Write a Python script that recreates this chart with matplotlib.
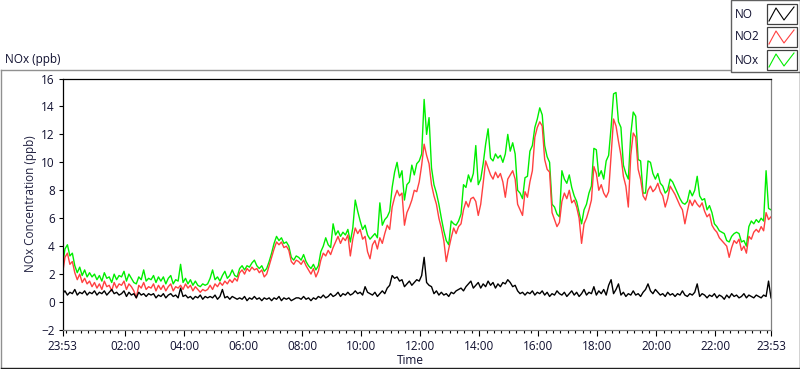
import numpy as np
import matplotlib
matplotlib.use("Agg")
import matplotlib.pyplot as plt
from matplotlib.lines import Line2D
from matplotlib.patches import Rectangle

# readings every 5 minutes, starting at 23:53 (one row = one hour)
no2 = [
    2.0, 3.2, 3.5, 2.7, 2.9, 2.1, 1.6, 2.0, 1.4, 1.7, 1.3, 1.5,
    1.1, 1.4, 1.0, 1.3, 0.9, 1.5, 1.1, 1.2, 0.8, 1.4, 1.0, 1.3,
    1.2, 1.5, 0.9, 1.3, 1.1, 0.8, 0.3, 1.2, 1.0, 1.4, 0.9, 1.1,
    1.0, 1.3, 0.8, 1.2, 0.9, 1.2, 0.8, 1.1, 1.3, 0.8, 1.1, 1.0,
    1.2, 0.9, 1.3, 1.0, 1.2, 0.8, 1.1, 0.9, 0.7, 0.9, 0.8, 0.9,
    1.2, 0.9, 1.3, 1.1, 1.4, 1.2, 1.5, 1.3, 1.6, 1.4, 1.7, 1.5,
    2.1, 2.3, 2.0, 2.4, 2.2, 2.5, 2.3, 2.4, 2.1, 2.3, 1.8, 2.0,
    2.6, 3.2, 3.8, 4.3, 4.1, 4.3, 3.9, 4.0, 3.7, 2.9, 2.7, 3.0,
    2.9, 2.7, 3.0, 2.6, 2.3, 2.0, 2.4, 1.8, 2.2, 3.0, 3.5, 3.3,
    3.7, 3.4, 3.9, 4.3, 4.7, 4.2, 4.6, 4.4, 4.8, 3.3, 4.5, 5.3,
    4.9, 5.2, 4.5, 4.7, 3.6, 3.1, 4.1, 4.4, 3.8, 4.6, 4.2, 4.9,
    5.5, 5.2, 6.8, 7.5, 8.0, 7.6, 7.8, 5.5, 6.4, 6.8, 7.3, 8.0,
    7.9, 8.6, 9.8, 11.3, 10.5, 9.9, 8.4, 7.6, 7.0, 6.0, 5.3, 4.4,
    2.9, 3.8, 4.6, 5.3, 4.9, 5.4, 5.6, 6.6, 7.2, 6.8, 7.4, 7.5,
    7.2, 6.2, 7.0, 8.5, 10.1, 9.6, 9.1, 8.8, 9.3, 8.9, 9.2, 8.6,
    7.5, 8.8, 9.1, 9.4, 8.8, 7.0, 6.6, 6.2, 7.9, 7.5, 8.6, 9.4,
    11.8, 12.5, 12.9, 12.6, 10.2, 9.5, 9.3, 6.4, 5.9, 5.4, 5.7, 7.2,
    7.8, 7.4, 8.0, 7.1, 7.3, 6.8, 6.0, 4.2, 5.6, 6.0, 6.6, 7.3,
    9.7, 9.2, 8.0, 8.4, 7.8, 7.5, 7.9, 10.5, 13.1, 12.6, 11.5, 10.5,
    9.0, 8.3, 6.8, 10.5, 12.1, 11.8, 9.5, 8.8, 7.6, 7.3, 8.0, 8.3,
    7.9, 8.1, 8.5, 7.9, 7.6, 6.8, 7.4, 8.3, 8.0, 7.7, 7.3, 6.9,
    6.6, 5.6, 6.5, 7.3, 6.9, 7.3, 7.0, 6.8, 7.1, 6.5, 6.1, 6.3,
    5.5, 5.2, 5.0, 4.6, 4.4, 4.2, 4.0, 3.2, 3.9, 4.4, 4.2, 4.5,
    3.7, 4.0, 3.5, 4.7, 4.5, 5.0, 5.2, 5.0, 5.4, 5.1, 6.4, 5.9,
    6.1,
]

nox = [
    2.6, 3.8, 4.1, 3.3, 3.5, 2.6, 2.1, 2.5, 1.9, 2.3, 1.8, 2.1,
    1.8, 2.0, 1.6, 1.9, 1.5, 2.1, 1.7, 1.8, 1.4, 2.0, 1.6, 1.9,
    1.8, 2.2, 1.5, 2.0, 1.7, 1.4, 1.3, 1.8, 1.6, 2.3, 1.5, 1.7,
    1.6, 1.9, 1.4, 1.8, 1.5, 1.8, 1.3, 1.7, 1.9, 1.3, 1.6, 1.5,
    2.7, 1.4, 1.7, 1.3, 1.6, 1.2, 1.5, 1.2, 1.1, 1.3, 1.2, 1.3,
    1.7, 2.3, 1.6, 1.8, 1.5, 1.9, 2.2, 1.7, 1.9, 2.3, 1.9, 1.8,
    2.4, 2.6, 2.3, 2.6, 2.5, 2.8, 3.0, 2.6, 2.4, 2.6, 2.2, 2.4,
    2.9, 3.5, 4.2, 4.7, 4.4, 4.6, 4.2, 4.3, 4.0, 3.2, 3.0, 3.3,
    3.2, 3.0, 3.4, 2.9, 2.6, 2.4, 2.7, 2.3, 2.6, 3.6, 4.0, 4.6,
    4.1, 3.9, 5.6, 4.8, 5.1, 4.7, 5.0, 4.8, 5.2, 4.3, 5.3, 7.3,
    6.5, 5.8, 5.2, 5.5, 4.8, 4.5, 4.7, 4.9, 4.6, 7.1, 5.5, 5.9,
    6.1, 6.5, 8.2, 9.3, 10.0, 8.9, 9.4, 7.3, 8.4, 8.6, 9.8, 9.1,
    9.9, 10.1, 10.6, 14.5, 12.0, 13.2, 9.6, 8.4, 7.8, 7.0, 6.0, 5.1,
    4.4, 4.1, 5.8, 5.6, 5.5, 5.8, 6.3, 8.4, 8.2, 9.1, 8.6, 9.2,
    11.2, 8.4, 8.8, 9.9, 11.3, 12.4, 10.3, 10.1, 10.6, 10.3, 10.5, 10.0,
    10.6, 12.0, 10.8, 11.4, 10.6, 8.0, 7.8, 7.4, 8.9, 9.0, 10.8, 11.2,
    12.5, 13.1, 13.9, 13.4, 11.2, 10.4, 10.0, 7.0, 6.8, 6.3, 6.1, 9.4,
    8.8, 8.5, 9.1, 8.2, 7.6, 7.2, 6.4, 5.6, 6.6, 7.0, 7.8, 8.3,
    11.0, 10.9, 9.0, 9.4, 8.8, 10.1, 10.5, 12.5, 14.9, 15.0, 12.9, 12.5,
    9.8, 9.2, 8.8, 12.0, 13.6, 13.3, 10.2, 10.1, 7.8, 7.8, 10.1, 10.0,
    9.2, 8.8, 9.2, 8.5, 8.3, 7.8, 8.0, 8.8, 8.6, 8.2, 7.8, 7.4,
    7.1, 7.0, 7.2, 8.0, 7.6, 8.0, 9.0, 7.6, 7.3, 7.4, 6.6, 6.9,
    6.4, 5.6, 5.4, 5.1, 5.0, 4.9, 4.4, 4.3, 4.7, 4.9, 5.0, 4.9,
    4.3, 4.4, 4.0, 5.4, 5.8, 5.6, 5.9, 5.7, 6.0, 5.8, 9.4, 6.7,
    6.6,
]

no = [
    0.6, 0.8, 0.5, 0.7, 0.6, 0.9, 0.5, 0.7, 0.6, 0.8, 0.5, 0.7,
    0.6, 0.8, 0.5, 0.7, 0.6, 0.8, 0.5, 0.7, 0.9, 0.6, 0.7, 0.5,
    0.6, 0.8, 0.4, 0.7, 0.5, 0.6, 0.3, 0.7, 0.5, 0.6, 0.4, 0.6,
    0.5, 0.6, 0.3, 0.5, 0.4, 0.6, 0.3, 0.5, 0.6, 0.4, 0.5, 0.3,
    1.0, 0.4, 0.5, 0.3, 0.4, 0.2, 0.4, 0.3, 0.5, 0.2, 0.4, 0.3,
    0.4, 0.3, 0.5, 0.2, 0.4, 0.9, 0.3, 0.4, 0.2, 0.4, 0.3, 0.2,
    0.3, 0.2, 0.4, 0.1, 0.3, 0.2, 0.4, 0.2, 0.3, 0.1, 0.3, 0.2,
    0.3, 0.1, 0.3, 0.2, 0.4, 0.1, 0.3, 0.2, 0.3, 0.1, 0.2, 0.3,
    0.3, 0.2, 0.4, 0.2, 0.3, 0.1, 0.3, 0.2, 0.4, 0.3, 0.5, 0.3,
    0.4, 0.6, 0.4, 0.5, 0.7, 0.4, 0.6, 0.5, 0.7, 0.5, 0.6, 0.8,
    0.6, 0.7, 0.5, 1.1, 0.7, 0.6, 0.5, 0.7, 0.4, 0.6, 0.8, 0.6,
    1.0, 1.2, 1.9, 1.7, 1.8, 1.5, 1.6, 1.1, 1.3, 1.5, 1.2, 1.4,
    1.6, 1.5, 1.9, 3.2, 1.4, 1.2, 1.1, 0.6, 0.8, 0.5, 0.7, 0.5,
    0.6, 0.4, 0.7, 0.6, 0.8, 0.9, 1.0, 0.8, 1.1, 1.3, 1.5, 1.0,
    1.2, 1.4, 1.0, 1.3, 1.1, 1.5, 1.2, 1.4, 1.0, 1.3, 1.1, 1.4,
    1.3, 1.6, 1.4, 1.1, 1.2, 0.8, 0.6, 0.7, 0.5, 0.7, 0.6, 0.8,
    0.5, 0.7, 0.6, 0.8, 0.5, 0.7, 0.4, 0.6, 0.5, 0.8, 0.6, 0.5,
    0.7, 0.4, 0.6, 0.8, 0.5, 0.7, 0.4, 0.6, 0.9, 0.5, 0.7, 0.6,
    1.1, 0.5, 0.8, 0.6, 0.9, 0.5, 1.2, 1.6, 0.6, 0.9, 1.3, 0.5,
    0.7, 0.4, 0.6, 0.5, 0.8, 0.5, 0.6, 0.4, 0.7, 0.9, 1.3, 0.8,
    0.6, 0.9, 0.7, 0.5, 0.6, 0.4, 0.7, 0.5, 0.6, 0.4, 0.6, 0.5,
    0.8, 0.5, 0.4, 0.6, 0.5, 0.7, 1.3, 0.4, 0.6, 0.5, 0.3, 0.5,
    0.4, 0.6, 0.3, 0.5, 0.4, 0.2, 0.5, 0.3, 0.6, 0.4, 0.5, 0.3,
    0.4, 0.6, 0.3, 0.5, 0.4, 0.3, 0.5, 0.4, 0.3, 0.5, 0.4, 1.5,
    0.3,
]

hours = np.arange(len(no)) * 5 / 60.0   # hours after 23:53

tick_labels = ['23:53', '02:00', '04:00', '06:00', '08:00', '10:00', '12:00',
               '14:00', '16:00', '18:00', '20:00', '22:00', '23:53']
first_full_hour = 7 / 60.0
tick_hours = [0.0] + [first_full_hour + 2 * i for i in range(1, 12)] + [24.0]

series = [('NO', no, 'black'), ('NO2', no2, '#ff4040'), ('NOx', nox, '#00ee00')]

plt.rcParams['font.family'] = ['Open Sans', 'DejaVu Sans']
plt.rcParams['font.size'] = 8.5

W, H = 800, 369
fig = plt.figure(figsize=(W / 100, H / 100), dpi=100)


def fx(x):
    return x / W


def fy(y):
    return 1 - y / H


ax = fig.add_axes([fx(62.5), fy(330), (771 - 62.5) / W, (330 - 78.5) / H])

ax.plot(hours, nox, color='#00ee00', lw=1.0)
ax.plot(hours, no2, color='#ff4040', lw=1.0)
ax.plot(hours, no, color='black', lw=1.0)

ax.set_xlim(0, 24)
ax.set_ylim(-2, 16)
ax.set_yticks(np.arange(-2, 17, 2))
ax.set_xticks(tick_hours)
ax.set_xticklabels(tick_labels)
ax.set_xticks(np.arange(first_full_hour, 24, 0.25), minor=True)
ax.tick_params(axis='y', direction='out', length=3, width=0.8, pad=2.5,
               labelcolor='#101030')
ax.tick_params(axis='x', which='major', direction='out', length=4, width=0.8,
               pad=3.0, labelcolor='#101030')
ax.tick_params(axis='x', which='minor', direction='out', length=2.2, width=0.8)

for side in ['top', 'left']:
    ax.spines[side].set_color('black')
for side in ['right', 'bottom']:
    ax.spines[side].set_color('#808080')
for sp in ax.spines.values():
    sp.set_linewidth(0.9)

fig.text(fx(31), fy(204), 'NOx Concentration (ppb)', rotation=90,
         ha='center', va='center', color='#202040')
fig.text(fx(410), fy(361), 'Time', ha='center', va='center', color='#101030')
fig.text(fx(5), fy(59), 'NOx (ppb)', ha='left', va='center', color='#101030')

# outer panel frame
fig.add_artist(Line2D([fx(0.5), fx(730)], [fy(69.5), fy(69.5)], color='#909090', lw=1))
fig.add_artist(Line2D([fx(0.5), fx(0.5)], [fy(69.5), fy(368)], color='#909090', lw=1))
fig.add_artist(Line2D([fx(0.5), fx(799.5)], [fy(368), fy(368)], color='#202020', lw=1))
fig.add_artist(Line2D([fx(799.5), fx(799.5)], [fy(72), fy(368)], color='#202020', lw=1))

# legend panel
fig.add_artist(Rectangle((fx(730.5), fy(72)), (799.5 - 730.5) / W, 72 / H,
                         transform=fig.transFigure, facecolor='white',
                         edgecolor='#606060', lw=1))
for i, (name, vals, col) in enumerate(series):
    yc = 14 + 23 * i
    fig.text(fx(735), fy(yc), name, ha='left', va='center', color='#101030')
    fig.add_artist(Rectangle((fx(767), fy(yc + 10)), 30 / W, 20 / H,
                             transform=fig.transFigure, facecolor='white',
                             edgecolor='#404040', lw=0.9))
    zx = [769, 776, 784, 794]
    zy = [yc + 7, yc - 6, yc + 6, yc - 7]
    fig.add_artist(Line2D([fx(v) for v in zx], [fy(v) for v in zy],
                          color=col, lw=0.8))

fig.savefig('out.png', dpi=100, facecolor='white')
